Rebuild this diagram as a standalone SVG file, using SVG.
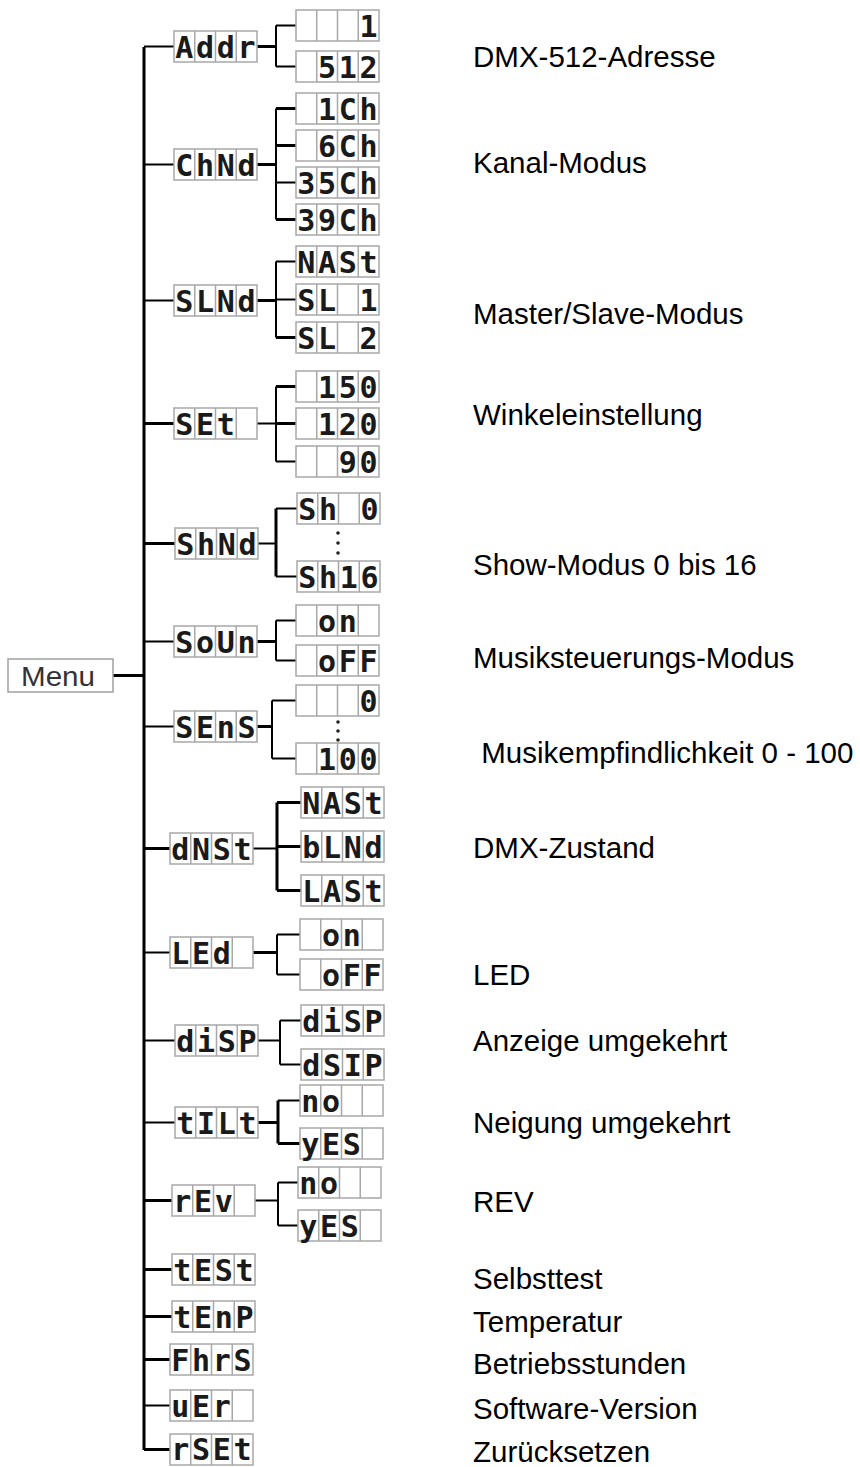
<svg xmlns="http://www.w3.org/2000/svg" xmlns:xlink="http://www.w3.org/1999/xlink" width="860" height="1467" viewBox="0 0 860 1467">
<style>
.cell{fill:#fff;stroke:#a8a8a8;stroke-width:1.5}
.celln{fill:none;stroke:#a8a8a8;stroke-width:1.5}
.seg{font-family:"DejaVu Sans Mono",monospace;font-weight:bold;font-size:30px;fill:#1a1a1a;text-anchor:middle}
.lbl{font-family:"Liberation Sans",Arial,sans-serif;font-size:29.5px;fill:#000}
.mbox{fill:#fff;stroke:#a0a0a0;stroke-width:1.5}
.mtxt{font-family:"Liberation Sans",Arial,sans-serif;font-size:28px;fill:#333}
.ln{fill:none;stroke:#000;stroke-width:2}
.lt{fill:none;stroke:#000;stroke-width:3}
.dot{fill:#222}
</style>
<defs>
<g id="box"><rect x="0" y="0" width="83" height="31" class="cell"/><path d="M20.75 0V31M41.5 0V31M62.25 0V31" class="celln"/></g>
</defs>
<rect width="860" height="1467" fill="#fff"/>

<g id="connectors">
<path class="lt" d="M144 47V1450"/>
<path class="lt" d="M113 675.5H144"/>
<path class="ln" d="M144 46.5H174"/>
<path class="lt" d="M257 46.5H276"/>
<path class="ln" d="M276 25.5V66.5M276 25.5H296M276 66.5H296"/>
<path class="ln" d="M144 164.5H174"/>
<path class="lt" d="M257 164.5H276"/>
<path class="ln" d="M276 108.5V219.5M276 182.5H296"/>
<path class="lt" d="M276 108.5H296M276 145.5H296M276 219.5H296"/>
<path class="ln" d="M144 300.5H174"/>
<path class="lt" d="M257 300.5H276"/>
<path class="ln" d="M276 261.5V337.5M276 261.5H296M276 299.5H296"/>
<path class="lt" d="M276 337.5H296"/>
<path class="lt" d="M144 423.5H174"/>
<path class="ln" d="M257 423.5H276"/>
<path class="ln" d="M276 386.5V461.5M276 461.5H296"/>
<path class="lt" d="M276 386.5H296M276 423.5H296"/>
<path class="lt" d="M144 543.5H175"/>
<path class="ln" d="M258 543.5H276"/>
<path class="lt" d="M276 508.5V576.5"/>
<path class="ln" d="M276 508.5H297M276 576.5H297"/>
<path class="ln" d="M144 641.5H174"/>
<path class="lt" d="M257 641.5H276"/>
<path class="ln" d="M276 620.5V660.5M276 620.5H296M276 660.5H296"/>
<path class="ln" d="M144 726.5H174"/>
<path class="lt" d="M257 726.5H272"/>
<path class="ln" d="M272 700.5V758.5M272 700.5H296M272 758.5H296"/>
<path class="lt" d="M144 848.5H170"/>
<path class="ln" d="M253 848.5H277"/>
<path class="lt" d="M277 802.5V890.5M277 802.5H301M277 846.5H301M277 890.5H301"/>
<path class="ln" d="M144 952.5H170"/>
<path class="lt" d="M253 952.5H277"/>
<path class="ln" d="M277 934.5V974.5M277 934.5H300M277 974.5H300"/>
<path class="ln" d="M144 1040.5H175"/>
<path class="ln" d="M258 1040.5H280"/>
<path class="ln" d="M280 1020.5V1064.5M280 1020.5H301M280 1064.5H301"/>
<path class="ln" d="M144 1122.5H175"/>
<path class="lt" d="M258 1122.5H278"/>
<path class="lt" d="M278 1100.5V1143.5M278 1143.5H300"/>
<path class="ln" d="M278 1100.5H300"/>
<path class="lt" d="M144 1200.5H172"/>
<path class="ln" d="M255 1200.5H278"/>
<path class="ln" d="M278 1182.5V1225.5M278 1182.5H298M278 1225.5H298"/>
<path class="lt" d="M144 1269.5H172M144 1316.5H172M144 1359.5H170M144 1449.5H170"/>
<path class="ln" d="M144 1405.5H170"/>
</g>

<g id="menu"><rect x="8" y="659" width="105" height="33" class="mbox"/><text x="21" y="686" class="mtxt" textLength="74" lengthAdjust="spacingAndGlyphs">Menu</text></g>

<g id="addr"><use xlink:href="#box" x="174" y="31"/><text class="seg" x="184.4 205.1 225.9 246.6" y="58">Addr</text></g>
<g id="addr-1"><use xlink:href="#box" x="296" y="10"/><text class="seg" xml:space="preserve" x="306.4 327.1 347.9 368.6" y="37">   1</text></g>
<g id="addr-512"><use xlink:href="#box" x="296" y="51"/><text class="seg" xml:space="preserve" x="306.4 327.1 347.9 368.6" y="78"> 512</text></g>

<g id="chnd"><use xlink:href="#box" x="174" y="149"/><text class="seg" x="184.4 205.1 225.9 246.6" y="176">ChNd</text></g>
<g id="chnd-1"><use xlink:href="#box" x="296" y="93"/><text class="seg" xml:space="preserve" x="306.4 327.1 347.9 368.6" y="120"> 1Ch</text></g>
<g id="chnd-6"><use xlink:href="#box" x="296" y="130"/><text class="seg" xml:space="preserve" x="306.4 327.1 347.9 368.6" y="157"> 6Ch</text></g>
<g id="chnd-35"><use xlink:href="#box" x="296" y="167"/><text class="seg" x="306.4 327.1 347.9 368.6" y="194">35Ch</text></g>
<g id="chnd-39"><use xlink:href="#box" x="296" y="204"/><text class="seg" x="306.4 327.1 347.9 368.6" y="231">39Ch</text></g>

<g id="slnd"><use xlink:href="#box" x="174" y="285"/><text class="seg" x="184.4 205.1 225.9 246.6" y="312">SLNd</text></g>
<g id="slnd-mast"><use xlink:href="#box" x="296" y="246"/><text class="seg" x="306.4 327.1 347.9 368.6" y="273">NASt</text></g>
<g id="slnd-sl1"><use xlink:href="#box" x="296" y="284"/><text class="seg" xml:space="preserve" x="306.4 327.1 347.9 368.6" y="311">SL 1</text></g>
<g id="slnd-sl2"><use xlink:href="#box" x="296" y="322"/><text class="seg" xml:space="preserve" x="306.4 327.1 347.9 368.6" y="349">SL 2</text></g>

<g id="set"><use xlink:href="#box" x="174" y="408"/><text class="seg" xml:space="preserve" x="184.4 205.1 225.9 246.6" y="435">SEt </text></g>
<g id="set-150"><use xlink:href="#box" x="296" y="371"/><text class="seg" xml:space="preserve" x="306.4 327.1 347.9 368.6" y="398"> 150</text></g>
<g id="set-120"><use xlink:href="#box" x="296" y="408"/><text class="seg" xml:space="preserve" x="306.4 327.1 347.9 368.6" y="435"> 120</text></g>
<g id="set-90"><use xlink:href="#box" x="296" y="446"/><text class="seg" xml:space="preserve" x="306.4 327.1 347.9 368.6" y="473">  90</text></g>

<g id="shnd"><use xlink:href="#box" x="175" y="528"/><text class="seg" x="185.4 206.1 226.9 247.6" y="555">ShNd</text></g>
<g id="shnd-0"><use xlink:href="#box" x="297" y="493"/><text class="seg" xml:space="preserve" x="307.4 328.1 348.9 369.6" y="520">Sh 0</text></g>
<g id="shnd-dots"><circle class="dot" cx="338" cy="533" r="1.8"/><circle class="dot" cx="338" cy="543" r="1.8"/><circle class="dot" cx="338" cy="553" r="1.8"/></g>
<g id="shnd-16"><use xlink:href="#box" x="297" y="561"/><text class="seg" x="307.4 328.1 348.9 369.6" y="588">Sh16</text></g>

<g id="soun"><use xlink:href="#box" x="174" y="626"/><text class="seg" x="184.4 205.1 225.9 246.6" y="653">SoUn</text></g>
<g id="soun-on"><use xlink:href="#box" x="296" y="605"/><text class="seg" xml:space="preserve" x="306.4 327.1 347.9 368.6" y="632"> on </text></g>
<g id="soun-off"><use xlink:href="#box" x="296" y="645"/><text class="seg" xml:space="preserve" x="306.4 327.1 347.9 368.6" y="672"> oFF</text></g>

<g id="sens"><use xlink:href="#box" x="174" y="711"/><text class="seg" x="184.4 205.1 225.9 246.6" y="738">SEnS</text></g>
<g id="sens-0"><use xlink:href="#box" x="296" y="685"/><text class="seg" xml:space="preserve" x="306.4 327.1 347.9 368.6" y="712">   0</text></g>
<g id="sens-dots"><circle class="dot" cx="338" cy="722" r="1.8"/><circle class="dot" cx="338" cy="731" r="1.8"/><circle class="dot" cx="338" cy="740" r="1.8"/></g>
<g id="sens-100"><use xlink:href="#box" x="296" y="743"/><text class="seg" xml:space="preserve" x="306.4 327.1 347.9 368.6" y="770"> 100</text></g>

<g id="dnst"><use xlink:href="#box" x="170" y="833"/><text class="seg" x="180.4 201.1 221.9 242.6" y="860">dNSt</text></g>
<g id="dnst-mast"><use xlink:href="#box" x="301" y="787"/><text class="seg" x="311.4 332.1 352.9 373.6" y="814">NASt</text></g>
<g id="dnst-blnd"><use xlink:href="#box" x="301" y="831"/><text class="seg" x="311.4 332.1 352.9 373.6" y="858">bLNd</text></g>
<g id="dnst-last"><use xlink:href="#box" x="301" y="875"/><text class="seg" x="311.4 332.1 352.9 373.6" y="902">LASt</text></g>

<g id="led"><use xlink:href="#box" x="170" y="937"/><text class="seg" xml:space="preserve" x="180.4 201.1 221.9 242.6" y="964">LEd </text></g>
<g id="led-on"><use xlink:href="#box" x="300" y="919"/><text class="seg" xml:space="preserve" x="310.4 331.1 351.9 372.6" y="946"> on </text></g>
<g id="led-off"><use xlink:href="#box" x="300" y="959"/><text class="seg" xml:space="preserve" x="310.4 331.1 351.9 372.6" y="986"> oFF</text></g>

<g id="disp"><use xlink:href="#box" x="175" y="1025"/><text class="seg" x="185.4 206.1 226.9 247.6" y="1052">diSP</text></g>
<g id="disp-disp"><use xlink:href="#box" x="301" y="1005"/><text class="seg" x="311.4 332.1 352.9 373.6" y="1032">diSP</text></g>
<g id="disp-dsip"><use xlink:href="#box" x="301" y="1049"/><text class="seg" x="311.4 332.1 352.9 373.6" y="1076">dSIP</text></g>

<g id="tilt"><use xlink:href="#box" x="175" y="1107"/><text class="seg" x="185.4 206.1 226.9 247.6" y="1134">tILt</text></g>
<g id="tilt-no"><use xlink:href="#box" x="300" y="1085"/><text class="seg" xml:space="preserve" x="310.4 331.1 351.9 372.6" y="1112">no  </text></g>
<g id="tilt-yes"><use xlink:href="#box" x="300" y="1128"/><text class="seg" xml:space="preserve" x="310.4 331.1 351.9 372.6" y="1155">yES </text></g>

<g id="rev"><use xlink:href="#box" x="172" y="1185"/><text class="seg" xml:space="preserve" x="182.4 203.1 223.9 244.6" y="1212">rEv </text></g>
<g id="rev-no"><use xlink:href="#box" x="298" y="1167"/><text class="seg" xml:space="preserve" x="308.4 329.1 349.9 370.6" y="1194">no  </text></g>
<g id="rev-yes"><use xlink:href="#box" x="298" y="1210"/><text class="seg" xml:space="preserve" x="308.4 329.1 349.9 370.6" y="1237">yES </text></g>

<g id="test"><use xlink:href="#box" x="172" y="1254"/><text class="seg" x="182.4 203.1 223.9 244.6" y="1281">tESt</text></g>
<g id="temp"><use xlink:href="#box" x="172" y="1301"/><text class="seg" x="182.4 203.1 223.9 244.6" y="1328">tEnP</text></g>
<g id="fhrs"><use xlink:href="#box" x="170" y="1344"/><text class="seg" x="180.4 201.1 221.9 242.6" y="1371">FhrS</text></g>
<g id="ver"><use xlink:href="#box" x="170" y="1390"/><text class="seg" xml:space="preserve" x="180.4 201.1 221.9 242.6" y="1417">uEr </text></g>
<g id="rset"><use xlink:href="#box" x="170" y="1434"/><text class="seg" x="180.4 201.1 221.9 242.6" y="1460">rSEt</text></g>

<g id="labels">
<text class="lbl" x="473" y="67">DMX-512-Adresse</text>
<text class="lbl" x="473" y="173">Kanal-Modus</text>
<text class="lbl" x="473" y="324">Master/Slave-Modus</text>
<text class="lbl" x="473" y="425">Winkeleinstellung</text>
<text class="lbl" x="473" y="575">Show-Modus 0 bis 16</text>
<text class="lbl" x="473" y="668">Musiksteuerungs-Modus</text>
<text class="lbl" xml:space="preserve" x="473" y="763"> Musikempfindlichkeit 0 - 100</text>
<text class="lbl" x="473" y="858">DMX-Zustand</text>
<text class="lbl" x="473" y="985">LED</text>
<text class="lbl" x="473" y="1051">Anzeige umgekehrt</text>
<text class="lbl" x="473" y="1133">Neigung umgekehrt</text>
<text class="lbl" x="473" y="1212">REV</text>
<text class="lbl" x="473" y="1289">Selbsttest</text>
<text class="lbl" x="473" y="1332">Temperatur</text>
<text class="lbl" x="473" y="1374">Betriebsstunden</text>
<text class="lbl" x="473" y="1419">Software-Version</text>
<text class="lbl" x="473" y="1462">Zurücksetzen</text>
</g>
</svg>
